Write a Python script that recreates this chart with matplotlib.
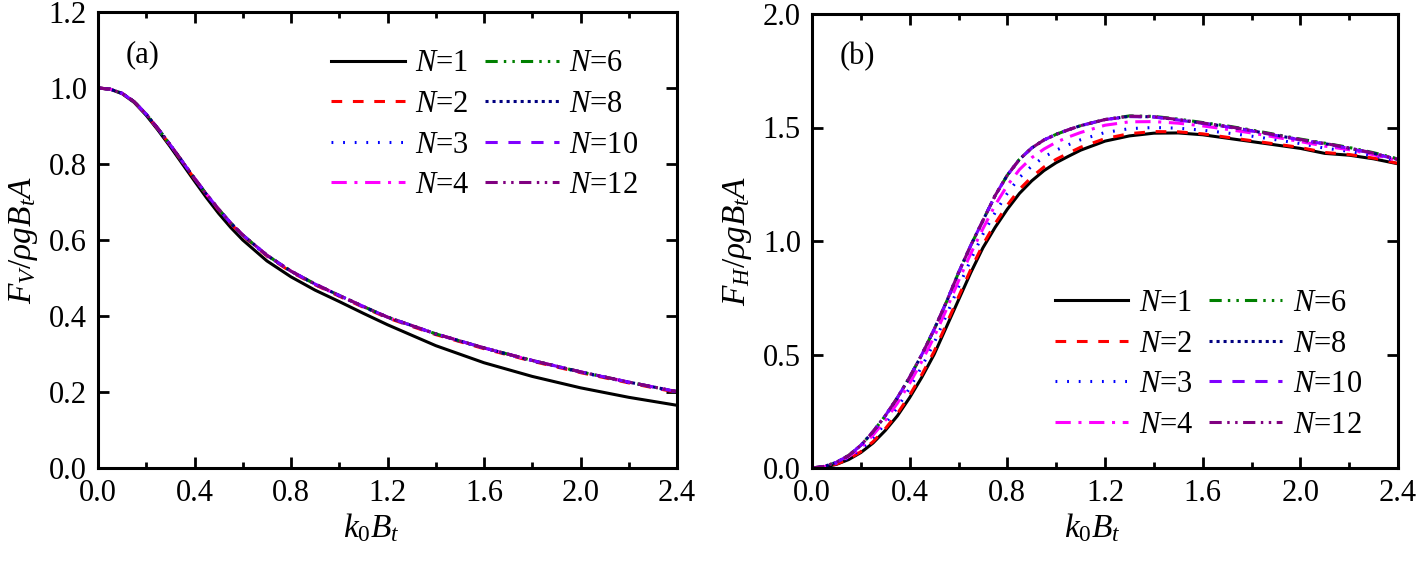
import matplotlib
matplotlib.use("Agg")
import matplotlib.pyplot as plt
from matplotlib.ticker import MultipleLocator, FormatStrFormatter

plt.rcParams['font.family'] = ['Liberation Serif', 'DejaVu Serif']
plt.rcParams['mathtext.fontset'] = 'custom'
plt.rcParams['mathtext.rm'] = 'Liberation Serif'
plt.rcParams['mathtext.it'] = 'Liberation Serif:italic'
plt.rcParams['mathtext.bf'] = 'Liberation Serif:bold'

# ---------------- data ----------------
labels = ["N=1", "N=2", "N=3", "N=4", "N=6", "N=8", "N=10", "N=12"]

kA = [0.0, 0.05, 0.1, 0.15, 0.2, 0.25, 0.3, 0.35, 0.4, 0.45, 0.5, 0.55, 0.6, 0.7, 0.8, 0.9,
      1.0, 1.1, 1.2, 1.4, 1.6, 1.8, 2.0, 2.2, 2.4]
FV_N1  = [1.0, 0.997, 0.985, 0.962, 0.928, 0.888, 0.845, 0.800, 0.755, 0.711, 0.670, 0.633, 0.600,
          0.545, 0.503, 0.468, 0.438, 0.407, 0.377, 0.322, 0.277, 0.241, 0.211, 0.186, 0.165]
FV_N2  = [1.0, 0.997, 0.986, 0.963, 0.930, 0.891, 0.849, 0.805, 0.761, 0.719, 0.679, 0.643, 0.611,
          0.558, 0.516, 0.482, 0.452, 0.423, 0.395, 0.351, 0.314, 0.281, 0.251, 0.224, 0.199]
FV_N3  = [1.0, 0.997, 0.986, 0.964, 0.931, 0.892, 0.850, 0.806, 0.762, 0.720, 0.680, 0.644, 0.612,
          0.559, 0.517, 0.483, 0.453, 0.424, 0.396, 0.352, 0.315, 0.282, 0.252, 0.225, 0.200]
FV_N4  = [1.0, 0.997, 0.986, 0.964, 0.931, 0.892, 0.850, 0.807, 0.763, 0.721, 0.681, 0.645, 0.613,
          0.560, 0.518, 0.484, 0.454, 0.425, 0.397, 0.353, 0.316, 0.283, 0.253, 0.226, 0.201]
FV_N6  = [1.0, 0.997, 0.986, 0.964, 0.931, 0.892, 0.850, 0.806, 0.762, 0.720, 0.681, 0.645, 0.613,
          0.560, 0.518, 0.484, 0.454, 0.425, 0.397, 0.353, 0.316, 0.283, 0.253, 0.226, 0.201]
FV_N8  = [1.0, 0.997, 0.986, 0.964, 0.931, 0.892, 0.850, 0.806, 0.762, 0.720, 0.681, 0.645, 0.613,
          0.560, 0.518, 0.484, 0.454, 0.425, 0.397, 0.353, 0.316, 0.283, 0.253, 0.226, 0.201]
FV_N10 = [1.0, 0.997, 0.986, 0.964, 0.931, 0.892, 0.850, 0.806, 0.762, 0.720, 0.681, 0.645, 0.613,
          0.560, 0.518, 0.484, 0.454, 0.425, 0.397, 0.353, 0.316, 0.283, 0.253, 0.226, 0.201]
FV_N12 = [1.0, 0.997, 0.986, 0.964, 0.931, 0.892, 0.850, 0.806, 0.762, 0.720, 0.681, 0.645, 0.613,
          0.560, 0.518, 0.484, 0.454, 0.425, 0.397, 0.353, 0.316, 0.283, 0.253, 0.226, 0.201]

kB = [0.0, 0.05, 0.1, 0.15, 0.2, 0.25, 0.3, 0.35, 0.4, 0.45, 0.5, 0.55, 0.6, 0.65, 0.7, 0.75,
      0.8, 0.85, 0.9, 0.95, 1.0, 1.05, 1.1, 1.2, 1.3, 1.4, 1.5, 1.6, 1.7, 1.8, 1.9, 2.0,
      2.05, 2.1, 2.2, 2.3, 2.4]
FH_N1  = [0.0, 0.004, 0.016, 0.037, 0.068, 0.110, 0.165, 0.230, 0.310, 0.400, 0.500, 0.620, 0.740,
          0.860, 0.970, 1.060, 1.140, 1.210, 1.265, 1.310, 1.345, 1.373, 1.400, 1.440, 1.463,
          1.475, 1.476, 1.468, 1.453, 1.438, 1.423, 1.408, 1.397, 1.386, 1.378, 1.362, 1.340]
FH_N2  = [0.0, 0.004, 0.017, 0.039, 0.072, 0.116, 0.173, 0.240, 0.321, 0.412, 0.513, 0.633, 0.754,
          0.874, 0.984, 1.077, 1.158, 1.228, 1.282, 1.326, 1.360, 1.387, 1.413, 1.451, 1.473,
          1.482, 1.481, 1.472, 1.457, 1.442, 1.427, 1.412, 1.401, 1.390, 1.381, 1.365, 1.342]
FH_N3  = [0.0, 0.005, 0.020, 0.045, 0.082, 0.133, 0.195, 0.267, 0.352, 0.447, 0.551, 0.672, 0.797,
          0.917, 1.030, 1.125, 1.210, 1.280, 1.330, 1.370, 1.400, 1.424, 1.446, 1.478, 1.495,
          1.500, 1.497, 1.488, 1.476, 1.462, 1.446, 1.429, 1.419, 1.409, 1.395, 1.376, 1.352]
FH_N4  = [0.0, 0.006, 0.022, 0.050, 0.090, 0.145, 0.210, 0.286, 0.373, 0.470, 0.577, 0.697, 0.824,
          0.944, 1.054, 1.158, 1.245, 1.315, 1.367, 1.405, 1.435, 1.458, 1.478, 1.510, 1.525,
          1.526, 1.519, 1.507, 1.492, 1.476, 1.457, 1.438, 1.428, 1.418, 1.402, 1.380, 1.355]
FH_N6  = [0.0, 0.007, 0.025, 0.055, 0.100, 0.160, 0.230, 0.310, 0.400, 0.500, 0.610, 0.730, 0.860,
          0.980, 1.090, 1.200, 1.290, 1.360, 1.410, 1.445, 1.470, 1.490, 1.508, 1.535, 1.551,
          1.549, 1.537, 1.522, 1.507, 1.489, 1.469, 1.449, 1.440, 1.431, 1.412, 1.389, 1.362]
FH_N8  = [0.0, 0.007, 0.025, 0.055, 0.100, 0.160, 0.230, 0.310, 0.400, 0.500, 0.610, 0.730, 0.860,
          0.980, 1.090, 1.200, 1.290, 1.360, 1.410, 1.445, 1.470, 1.490, 1.508, 1.535, 1.549,
          1.547, 1.534, 1.519, 1.504, 1.486, 1.466, 1.446, 1.437, 1.429, 1.409, 1.386, 1.359]
FH_N10 = [0.0, 0.007, 0.025, 0.055, 0.100, 0.160, 0.230, 0.310, 0.400, 0.500, 0.610, 0.730, 0.860,
          0.980, 1.090, 1.200, 1.290, 1.360, 1.410, 1.445, 1.470, 1.490, 1.508, 1.535, 1.548,
          1.546, 1.533, 1.518, 1.503, 1.485, 1.465, 1.445, 1.436, 1.428, 1.408, 1.385, 1.358]
FH_N12 = [0.0, 0.007, 0.025, 0.055, 0.100, 0.160, 0.230, 0.310, 0.400, 0.500, 0.610, 0.730, 0.860,
          0.980, 1.090, 1.200, 1.290, 1.360, 1.410, 1.445, 1.470, 1.490, 1.508, 1.535, 1.550,
          1.548, 1.535, 1.520, 1.505, 1.487, 1.467, 1.447, 1.438, 1.430, 1.410, 1.387, 1.360]

FV = [FV_N1, FV_N2, FV_N3, FV_N4, FV_N6, FV_N8, FV_N10, FV_N12]
FH = [FH_N1, FH_N2, FH_N3, FH_N4, FH_N6, FH_N8, FH_N10, FH_N12]

# ---------------- styles ----------------
colors = ['black', '#FF0000', '#0000FF', '#FF00FF', '#008000', '#000080', '#8000FF', '#800080']
styles = ['-', (0, (3.5, 3.5)), (0, (0.6, 3.2)), (0, (5, 2.5, 1, 2.5)),
          (0, (4, 2, 0.8, 2, 0.8, 2)), (0, (1, 1.3)), (0, (4, 3.5)), (0, (4, 1.8, 0.8, 1.8, 0.8, 1.8))]
lw = 2.2
FS = 22

fig = plt.figure(figsize=(14.18, 5.61), dpi=100)
W, H = 1418, 561
axA = fig.add_axes([98 / W, 1 - 468 / H, 579 / W, 456 / H])
axB = fig.add_axes([812 / W, 1 - 468 / H, 586 / W, 454 / H])

def style_ax(ax, ymax, ymaj):
    ax.set_xlim(0, 2.4)
    ax.set_ylim(0, ymax)
    ax.xaxis.set_major_locator(MultipleLocator(0.4))
    ax.xaxis.set_minor_locator(MultipleLocator(0.2))
    ax.yaxis.set_major_locator(MultipleLocator(ymaj))
    ax.xaxis.set_major_formatter(FormatStrFormatter('%.1f'))
    ax.yaxis.set_major_formatter(FormatStrFormatter('%.1f'))
    ax.tick_params(which='both', direction='in', top=True, right=True, labelsize=FS, width=2)
    ax.tick_params(which='major', length=8, pad=8)
    ax.tick_params(which='minor', length=4)
    for s in ax.spines.values():
        s.set_linewidth(2.2)

for i in range(len(labels)):
    lab = r'$N$=' + labels[i][2:]
    axA.plot(kA, FV[i], color=colors[i], ls=styles[i], lw=lw, label=lab)
    axB.plot(kB, FH[i], color=colors[i], ls=styles[i], lw=lw, label=lab)

style_ax(axA, 1.2, 0.2)
style_ax(axB, 2.0, 0.5)

axA.set_xlabel(r'$k_0B_t$', fontsize=FS + 2, labelpad=2)
axB.set_xlabel(r'$k_0B_t$', fontsize=FS + 2, labelpad=2)
axA.xaxis.set_label_coords(0.472, -0.095)
axB.xaxis.set_label_coords(0.478, -0.095)
axA.set_ylabel(r'$F_V/\rho gB_tA$', fontsize=FS + 2, labelpad=6)
axB.set_ylabel(r'$F_H/\rho gB_tA$', fontsize=FS + 2, labelpad=6)

axA.text(0.047, 0.89, '(a)', transform=axA.transAxes, fontsize=FS)
axB.text(0.047, 0.89, '(b)', transform=axB.transAxes, fontsize=FS)

legkw = dict(ncol=2, frameon=False, fontsize=FS, handlelength=2.4, labelspacing=0.38,
             columnspacing=0.5, handletextpad=0.35, borderaxespad=0.3)
axA.legend(loc='upper right', bbox_to_anchor=(0.97, 0.965), **legkw)
axB.legend(loc='lower right', bbox_to_anchor=(0.975, 0.015), **legkw)

fig.savefig('out.png', dpi=100)
